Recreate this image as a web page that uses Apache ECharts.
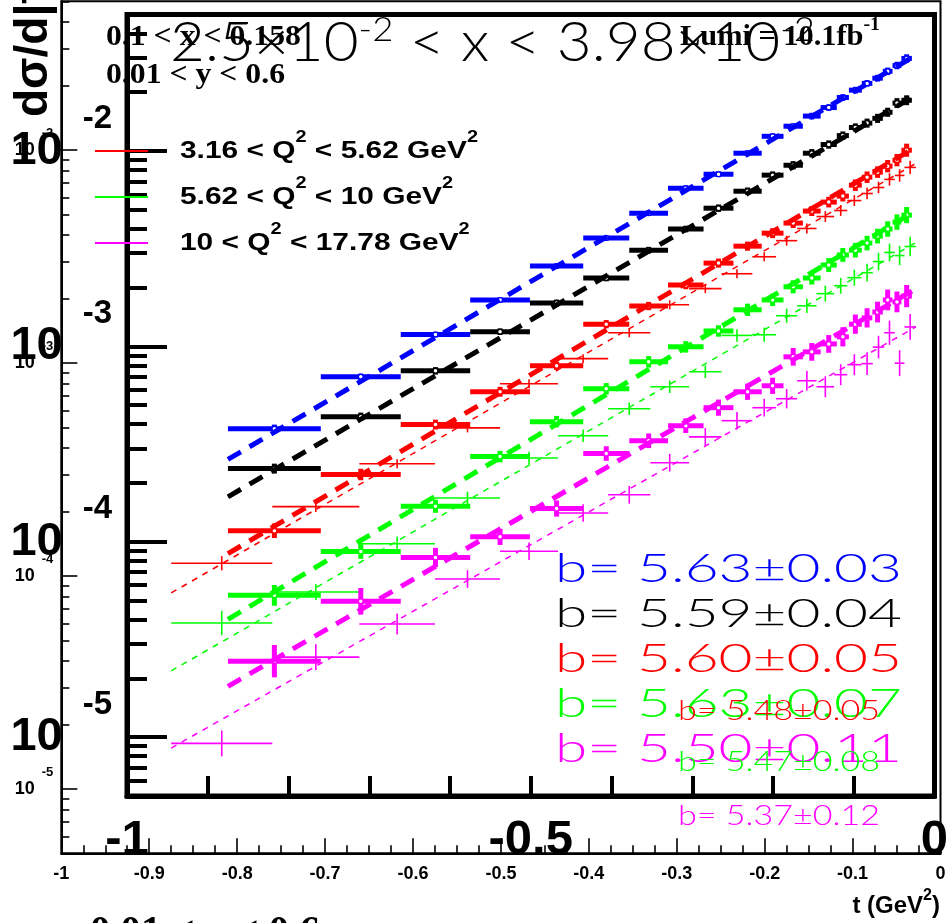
<!DOCTYPE html>
<html><head><meta charset="utf-8">
<script src="https://cdn.jsdelivr.net/npm/echarts@6/dist/echarts.min.js"></script>
<style>html,body{margin:0;padding:0;background:#fff}#c{width:952px;height:923px}</style>
</head><body><div id="c"></div>
<script>
// ---------------- data ----------------
const binEdges = [-0.875,-0.76,-0.661,-0.575,-0.501,-0.435,-0.378,-0.33,-0.286,-0.249,-0.214,-0.187,-0.163,-0.141,-0.121,-0.106,-0.09,-0.077,-0.064,-0.052,-0.041,-0.028];

// thick points (inner frame)
const blueVals    = [3.79e-4,6.99e-4,1.15e-3,1.73e-3,2.58e-3,3.59e-3,4.81e-3,6.46e-3,7.61e-3,9.75e-3,1.19e-2,1.34e-2,1.51e-2,1.67e-2,1.88e-2,2.05e-2,2.22e-2,2.36e-2,2.56e-2,2.74e-2,2.98e-2];
const blackVals   = [2.37e-4,4.37e-4,7.50e-4,1.19e-3,1.67e-3,2.24e-3,3.11e-3,3.99e-3,5.10e-3,6.23e-3,7.53e-3,8.46e-3,9.75e-3,1.08e-2,1.20e-2,1.32e-2,1.39e-2,1.47e-2,1.58e-2,1.76e-2,1.82e-2];
const redVals     = [1.14e-4,2.21e-4,3.98e-4,5.86e-4,7.96e-4,1.30e-3,1.61e-3,2.06e-3,2.67e-3,3.26e-3,3.80e-3,4.28e-3,4.93e-3,5.48e-3,5.88e-3,6.69e-3,7.35e-3,7.80e-3,8.37e-3,8.98e-3,1.01e-2];
const greenVals   = [5.32e-5,8.92e-5,1.52e-4,2.73e-4,4.12e-4,6.07e-4,8.34e-4,9.95e-4,1.20e-3,1.54e-3,1.73e-3,2.02e-3,2.24e-3,2.61e-3,2.94e-3,3.11e-3,3.38e-3,3.67e-3,3.99e-3,4.33e-3,4.70e-3];
const magentaVals = [2.45e-5,4.96e-5,8.31e-5,1.06e-4,1.48e-4,2.83e-4,3.29e-4,3.93e-4,4.86e-4,5.86e-4,6.29e-4,8.85e-4,9.38e-4,1.03e-3,1.12e-3,1.30e-3,1.40e-3,1.50e-3,1.73e-3,1.69e-3,1.81e-3];

const blueErr    = [0.05,0.04,0.035,0.03,0.03,0.03,0.03,0.03,0.035,0.035,0.035,0.035,0.04,0.04,0.04,0.04,0.04,0.04,0.045,0.045,0.05];
const blackErr   = [0.06,0.05,0.045,0.04,0.04,0.04,0.04,0.04,0.045,0.045,0.045,0.05,0.05,0.05,0.05,0.05,0.055,0.055,0.055,0.06,0.06];
const redErr     = [0.09,0.07,0.06,0.06,0.05,0.05,0.05,0.05,0.055,0.055,0.06,0.06,0.06,0.065,0.065,0.07,0.07,0.07,0.075,0.075,0.08];
const greenErr   = [0.13,0.09,0.08,0.07,0.07,0.07,0.07,0.07,0.07,0.075,0.075,0.08,0.08,0.085,0.085,0.09,0.09,0.09,0.095,0.095,0.1];
const magentaErr = [0.21,0.17,0.12,0.1,0.1,0.09,0.09,0.09,0.1,0.1,0.1,0.11,0.11,0.11,0.12,0.12,0.12,0.13,0.13,0.13,0.14];

// thin points (outer frame)
const redThinVals     = [1.15e-4,2.12e-4,3.37e-4,4.97e-4,8.01e-4,1.05e-3,1.39e-3,1.88e-3,2.24e-3,2.63e-3,3.16e-3,3.76e-3,4.29e-3,4.88e-3,5.21e-3,5.80e-3,6.26e-3,6.68e-3,7.29e-3,7.61e-3,8.30e-3];
const greenThinVals   = [6.03e-5,8.43e-5,1.42e-4,2.33e-4,3.59e-4,4.56e-4,6.11e-4,7.75e-4,9.12e-4,1.35e-3,1.36e-3,1.67e-3,1.86e-3,2.12e-3,2.31e-3,2.52e-3,2.66e-3,3.00e-3,3.31e-3,3.20e-3,3.53e-3];
const magentaThinVals = [1.64e-5,4.17e-5,5.96e-5,9.70e-5,1.31e-4,1.98e-4,2.41e-4,3.41e-4,4.51e-4,5.37e-4,6.18e-4,6.81e-4,8.27e-4,7.75e-4,8.83e-4,9.84e-4,9.95e-4,1.19e-3,1.39e-3,1.00e-3,1.48e-3];

const redThinErr     = [0.08,0.06,0.05,0.05,0.05,0.05,0.05,0.05,0.05,0.05,0.05,0.055,0.055,0.06,0.06,0.06,0.065,0.065,0.07,0.07,0.075];
const greenThinErr   = [0.14,0.09,0.08,0.07,0.07,0.07,0.07,0.07,0.07,0.07,0.08,0.08,0.08,0.09,0.09,0.09,0.1,0.1,0.1,0.11,0.11];
const magentaThinErr = [0.15,0.15,0.12,0.1,0.1,0.1,0.1,0.1,0.1,0.1,0.1,0.11,0.11,0.12,0.12,0.12,0.13,0.13,0.14,0.15,0.15];

// exponential fits: values at the two ends of fitRange
const fitRange       = [-0.875, -0.028];
const blueFit        = [2.64e-4, 3.01e-2];
const blackFit       = [1.70e-4, 1.88e-2];
const redFit         = [8.7e-5, 1.02e-2];
const greenFit       = [4.01e-5, 4.81e-3];
const magentaFit     = [1.82e-5, 1.92e-3];
const redThinFit     = [8.34e-5, 8.67e-3];
const greenThinFit   = [3.59e-5, 3.68e-3];
const magentaThinFit = [1.56e-5, 1.48e-3];

// texts
const bThickLabels = ['b= 5.63\u00b10.03','b= 5.59\u00b10.04','b= 5.60\u00b10.05','b= 5.63\u00b10.07','b= 5.50\u00b10.11'];
const bThinLabels  = ['b= 5.48\u00b10.05','b= 5.47\u00b10.08','b= 5.37\u00b10.12'];
const legendLabels = [['3.16 < Q','2',' < 5.62 GeV','2'],['5.62 < Q','2',' < 10 GeV','2'],['10 < Q','2',' < 17.78 GeV','2']];
const yMajor = [1e-5,1e-4,1e-3,1e-2];
const xInnerLabels = [-1,-0.5,0];

// ---------------- drawing ----------------
const C = {blue:'#0000ff', black:'#000000', red:'#ff0000', green:'#00ff00', magenta:'#ff00ff'};
const yMinor = [];
for (let e = -6; e <= -2; e++) for (let m = 2; m <= 9; m++) { const v = m * Math.pow(10, e); if (v > 4.9e-6 && v < 0.0501) yMinor.push(v); }

function errSeries(vals, errs, color, thick) {
  const data = vals.map((v, i) => [binEdges[i], binEdges[i+1], v, v/(1+errs[i]), v*(1+errs[i])]);
  return {
    type: 'custom', xAxisIndex: thick ? 1 : 0, yAxisIndex: thick ? 2 : 0,
    z: thick ? 5 : 3, clip: false, silent: true, data,
    encode: {x: [0,1], y: [2,3,4]},
    renderItem(params, api) {
      const x0 = api.value(0), x1 = api.value(1), y = api.value(2), lo = api.value(3), hi = api.value(4);
      const xc = (x0 + x1) / 2;
      const a = api.coord([x0, y]), b = api.coord([x1, y]);
      const t = api.coord([xc, hi]), d = api.coord([xc, lo]), c = api.coord([xc, y]);
      const lw = thick ? 5 : 1.6;
      const ch = [
        {type:'line', shape:{x1:a[0], y1:a[1], x2:b[0], y2:b[1]}, style:{stroke:color, lineWidth:lw}},
        {type:'line', shape:{x1:t[0], y1:t[1], x2:d[0], y2:d[1]}, style:{stroke:color, lineWidth:lw}}
      ];
      if (thick) ch.push({type:'circle', shape:{cx:c[0], cy:c[1], r:2.4}, style:{fill:'#ffffff', stroke:color, lineWidth:1.3}});
      return {type:'group', children: ch};
    }
  };
}
function fitSeries(vals, color, thick) {
  return {
    type: 'line', xAxisIndex: thick ? 1 : 0, yAxisIndex: thick ? 2 : 0,
    z: thick ? 6 : 4, silent: true, showSymbol: false, symbol: 'none',
    data: [[fitRange[0], vals[0]], [fitRange[1], vals[1]]],
    lineStyle: thick ? {color, width: 5, type: [15, 10]} : {color, width: 1.5, type: [6, 6]}
  };
}

const mctx = document.createElement('canvas').getContext('2d');
function tw(text, weight, size, family) { mctx.font = weight + ' ' + size + 'px ' + family; return mctx.measureText(text).width; }

const THIN = 'Lato', THINW = 300;
const SERIF = 'Liberation Serif', SANS = 'Liberation Sans';
const graphics = [];
function addText(o) {
  graphics.push({type:'text', x:o.x, y:o.y, z:o.z == null ? 50 : o.z, scaleX:o.scaleX || 1, rotation:o.rotation || 0, silent:true,
    style:{text:o.text, fill:o.color || '#000', fontSize:o.size, fontFamily:o.family, fontWeight:o.weight,
      align:o.align || 'left', textAlign:o.align || 'left', verticalAlign:'middle', textVerticalAlign:'middle', rich:o.rich}});
}

// serif info texts (under inner axis line)
const serifScale = 179 / tw('0.01 < y < 0.6', 'bold', 29, SERIF);
addText({text:'0.1 < x < 0.158', x:106, y:38, size:29, family:SERIF, weight:'bold', scaleX:serifScale, z:-5});
addText({text:'0.01 < y < 0.6', x:106, y:76, size:29, family:SERIF, weight:'bold', scaleX:serifScale, z:-5});
// Lumi
{
  const w = tw('Lumi = 10.1fb', 'bold', 29, SERIF) + tw('-1', 'bold', 19, SERIF);
  addText({text:'{n|Lumi = 10.1fb}{s|-1}', x:680, y:38, size:29, family:SERIF, weight:'bold', scaleX:200 / w,
    rich:{n:{fontSize:29, fontFamily:SERIF, fontWeight:'bold', fill:'#000', lineHeight:44}, s:{fontSize:19, fontFamily:SERIF, fontWeight:'bold', fill:'#000', lineHeight:16, verticalAlign:'top'}}});
}
// big thin x range text
{
  const w = tw('2.5\u00d710', THINW, 56, THIN) + 2 * tw('-2', THINW, 34, THIN) + tw(' < x < 3.98\u00d710', THINW, 56, THIN);
  addText({text:'{n|2.5\u00d710}{s|-2}{n| < x < 3.98\u00d710}{s|-2}', x:170, y:43, size:56, family:THIN, weight:THINW, scaleX:645 / w,
    rich:{n:{fontSize:56, fontFamily:THIN, fontWeight:THINW, fill:'#000', lineHeight:60}, s:{fontSize:34, fontFamily:THIN, fontWeight:THINW, fill:'#000', lineHeight:24, verticalAlign:'top'}}});
}
// legend
const legColors = [C.red, C.green, C.magenta];
const legY = [151, 197, 243];
{
  const l0 = legendLabels[0];
  const w0 = tw(l0[0], 'bold', 24, SANS) + tw(l0[2], 'bold', 24, SANS) + 2 * tw('2', 'bold', 16, SANS);
  const sc = 298 / w0;
  legendLabels.forEach((l, i) => {
    graphics.push({type:'line', z:40, silent:true, shape:{x1:95, y1:legY[i], x2:148, y2:legY[i]}, style:{stroke:legColors[i], lineWidth:2}});
    addText({text:'{n|' + l[0] + '}{s|' + l[1] + '}{n|' + l[2] + '}{s|' + l[3] + '}', x:180, y:legY[i], size:24, family:SANS, weight:'bold', scaleX:sc,
      rich:{n:{fontSize:24, fontFamily:SANS, fontWeight:'bold', fill:'#000', lineHeight:42}, s:{fontSize:16, fontFamily:SANS, fontWeight:'bold', fill:'#000', lineHeight:16, verticalAlign:'top'}}});
  });
}
// b labels
const bThickColors = [C.blue, C.black, C.red, C.green, C.magenta];
const bThickY = [569, 614, 659, 704, 749];
bThickLabels.forEach((t, i) => addText({text:t, x:555, y:bThickY[i], size:39, family:THIN, weight:THINW, color:bThickColors[i], scaleX:347 / tw(t, THINW, 39, THIN)}));
const bThinColors = [C.red, C.green, C.magenta];
const bThinY = [711, 762, 816];
bThinLabels.forEach((t, i) => addText({text:t, x:678, y:bThinY[i], size:28, family:THIN, weight:THINW, color:bThinColors[i], scaleX:202 / tw(t, THINW, 28, THIN)}));
// axis titles
addText({text:'d\u03c3/d|t| (nb/GeV\u00b2)', x:34, y:117, size:46, family:SANS, weight:'bold', rotation:Math.PI / 2});
addText({text:'{n|t (GeV}{s|2}{n|)}', x:940, y:906, size:24, family:SANS, weight:'bold', align:'right',
  rich:{n:{fontSize:24, fontFamily:SANS, fontWeight:'bold', fill:'#000', lineHeight:36}, s:{fontSize:16, fontFamily:SANS, fontWeight:'bold', fill:'#000', lineHeight:14, verticalAlign:'top'}}});
addText({text:'0.01 < y < 0.6', x:90, y:934, size:42, family:SERIF, weight:'bold', scaleX:0.97});

const axisFont = {fontFamily: SANS, fontWeight: 'bold', color: '#000'};
const outerRect = {left: 61.3, right: 11.5, top: 1.3, bottom: 69.7};
const innerRect = {left: 127, right: 17.5, top: 14.5, bottom: 127};
const hiddenX = g => ({gridIndex: g, type: 'value', min: -1, max: 0, show: false, axisLine: {show: false, onZero: false}});
const option = {
  animation: false,
  backgroundColor: '#ffffff',
  grid: [
    Object.assign({show: true, borderColor: '#000', borderWidth: 2, backgroundColor: 'transparent'}, outerRect),
    Object.assign({show: true, borderColor: '#000', borderWidth: 5, backgroundColor: 'transparent'}, innerRect),
    Object.assign({show: false}, outerRect),
    Object.assign({show: false}, innerRect)
  ],
  xAxis: [
    {gridIndex: 0, type: 'value', position: 'bottom', min: -1, max: 0, interval: 0.1,
     axisLine: {show: true, onZero: false, lineStyle: {color: '#000', width: 2}},
     axisTick: {show: true, inside: true, length: 15, lineStyle: {color: '#000', width: 1.6}},
     minorTick: {show: true, splitNumber: 4, length: 8, lineStyle: {color: '#000', width: 1.6}},
     splitLine: {show: false},
     axisLabel: Object.assign({fontSize: 18, margin: 12, formatter: v => String(+(+v).toFixed(1))}, axisFont)},
    {gridIndex: 1, type: 'value', position: 'bottom', min: -1, max: 0, interval: 0.1,
     axisLine: {show: true, onZero: false, lineStyle: {color: '#000', width: 5}},
     axisTick: {show: true, inside: true, length: 20, lineStyle: {color: '#000', width: 4}},
     splitLine: {show: false},
     axisLabel: Object.assign({fontSize: 49, margin: 20, customValues: xInnerLabels, formatter: v => String(+(+v).toFixed(1))}, axisFont)},
    hiddenX(2), hiddenX(3)
  ],
  yAxis: [
    {gridIndex: 0, type: 'log', position: 'left', logBase: 10, min: 5e-6, max: 0.05,
     axisLine: {show: true, onZero: false, lineStyle: {color: '#000', width: 2}},
     axisTick: {show: true, inside: true, length: 16, customValues: yMajor, lineStyle: {color: '#000', width: 1.6}},
     splitLine: {show: false}, minorTick: {show: false},
     axisLabel: {show: true, customValues: yMajor, margin: 8,
       formatter: v => '{b|10}{e|' + Math.round(Math.log10(v)) + '}',
       rich: {b: {fontSize: 18, fontWeight: 'bold', fontFamily: SANS, color: '#000', lineHeight: 46},
              e: {fontSize: 13, fontWeight: 'bold', fontFamily: SANS, color: '#000', lineHeight: 12, verticalAlign: 'top', padding: [0, 0, 0, 7]}}}},
    {gridIndex: 2, type: 'log', position: 'left', logBase: 10, min: 5e-6, max: 0.05,
     axisLine: {show: false, onZero: false}, splitLine: {show: false},
     axisTick: {show: true, inside: true, length: 8, customValues: yMinor, lineStyle: {color: '#000', width: 1.6}},
     axisLabel: {show: false}},
    {gridIndex: 1, type: 'log', position: 'left', logBase: 10, min: 5e-6, max: 0.05,
     axisLine: {show: true, onZero: false, lineStyle: {color: '#000', width: 5}},
     axisTick: {show: true, inside: true, length: 40, customValues: yMajor, lineStyle: {color: '#000', width: 4}},
     splitLine: {show: false},
     axisLabel: {show: true, customValues: yMajor, margin: 15,
       formatter: v => '{b|10}{e|' + Math.round(Math.log10(v)) + '}',
       rich: {b: {fontSize: 47, fontWeight: 'bold', fontFamily: 'Liberation Sans Narrow, Liberation Sans', color: '#000', lineHeight: 98},
              e: {fontSize: 33, fontWeight: 'bold', fontFamily: SANS, color: '#000', lineHeight: 20, verticalAlign: 'top', padding: [0, 0, 0, 20]}}}},
    {gridIndex: 3, type: 'log', position: 'left', logBase: 10, min: 5e-6, max: 0.05,
     axisLine: {show: false, onZero: false}, splitLine: {show: false},
     axisTick: {show: true, inside: true, length: 20, customValues: yMinor, lineStyle: {color: '#000', width: 4}},
     axisLabel: {show: false}}
  ],
  series: [
    errSeries(redThinVals, redThinErr, C.red, false),
    errSeries(greenThinVals, greenThinErr, C.green, false),
    errSeries(magentaThinVals, magentaThinErr, C.magenta, false),
    fitSeries(redThinFit, C.red, false),
    fitSeries(greenThinFit, C.green, false),
    fitSeries(magentaThinFit, C.magenta, false),
    errSeries(blueVals, blueErr, C.blue, true),
    errSeries(blackVals, blackErr, C.black, true),
    errSeries(redVals, redErr, C.red, true),
    errSeries(greenVals, greenErr, C.green, true),
    errSeries(magentaVals, magentaErr, C.magenta, true),
    fitSeries(blueFit, C.blue, true),
    fitSeries(blackFit, C.black, true),
    fitSeries(redFit, C.red, true),
    fitSeries(greenFit, C.green, true),
    fitSeries(magentaFit, C.magenta, true)
  ],
  graphic: {elements: graphics}
};
const chart = echarts.init(document.getElementById('c'), null, {renderer: 'canvas', width: 952, height: 923});
chart.setOption(option);
</script>
</body></html>
